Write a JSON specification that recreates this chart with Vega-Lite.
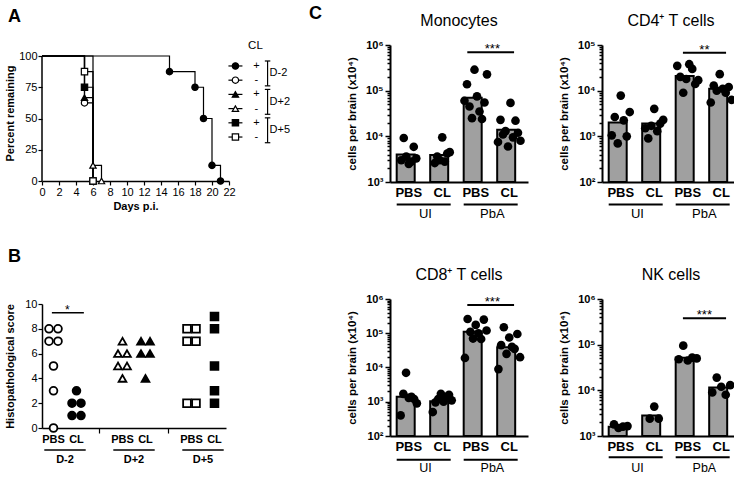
{
"$schema": "https://vega.github.io/schema/vega-lite/v6.json",
"background": "white",
"padding": {"left": 3, "top": 5, "right": 2, "bottom": 0},
"config": {
  "view": {"stroke": null},
  "font": "Liberation Sans",
  "axis": {"domainColor": "black", "tickColor": "black", "labelColor": "black", "titleColor": "black", "labelFont": "Liberation Sans", "titleFont": "Liberation Sans", "grid": false, "labelOverlap": false},
  "title": {"font": "Liberation Sans", "color": "black", "fontWeight": "normal"},
  "text": {"font": "Liberation Sans", "color": "black"}
},
"datasets": {
  "survival": [
    {"timing":"D-2","cl":"+","day":0,"pct":100},{"timing":"D-2","cl":"+","day":15,"pct":87.5},{"timing":"D-2","cl":"+","day":18,"pct":75},{"timing":"D-2","cl":"+","day":19,"pct":50},{"timing":"D-2","cl":"+","day":20,"pct":12.5},{"timing":"D-2","cl":"+","day":21,"pct":0},
    {"timing":"D-2","cl":"-","day":0,"pct":100},{"timing":"D-2","cl":"-","day":5,"pct":62.5},{"timing":"D-2","cl":"-","day":6,"pct":0},
    {"timing":"D+2","cl":"+","day":0,"pct":100},{"timing":"D+2","cl":"+","day":5,"pct":66.7},{"timing":"D+2","cl":"+","day":6,"pct":0},
    {"timing":"D+2","cl":"-","day":0,"pct":100},{"timing":"D+2","cl":"-","day":6,"pct":12.5},{"timing":"D+2","cl":"-","day":7,"pct":0},
    {"timing":"D+5","cl":"+","day":0,"pct":100},{"timing":"D+5","cl":"+","day":5,"pct":75},{"timing":"D+5","cl":"+","day":6,"pct":0},
    {"timing":"D+5","cl":"-","day":0,"pct":100},{"timing":"D+5","cl":"-","day":5,"pct":87.5},{"timing":"D+5","cl":"-","day":6,"pct":0}
  ],
  "legendRows": [
    {"g":"D-2 +","timing":"D-2","cl":"+"},{"g":"D-2 -","timing":"D-2","cl":"-"},
    {"g":"D+2 +","timing":"D+2","cl":"+"},{"g":"D+2 -","timing":"D+2","cl":"-"},
    {"g":"D+5 +","timing":"D+5","cl":"+"},{"g":"D+5 -","timing":"D+5","cl":"-"}
  ],
  "legendBrackets": [
    {"timing":"D-2","top":"D-2 +","bot":"D-2 -"},
    {"timing":"D+2","top":"D+2 +","bot":"D+2 -"},
    {"timing":"D+5","top":"D+5 +","bot":"D+5 -"}
  ],
  "scores": [
    {"cat":"D-2|PBS","timing":"D-2","trt":"PBS","score":8},{"cat":"D-2|PBS","timing":"D-2","trt":"PBS","score":8},{"cat":"D-2|PBS","timing":"D-2","trt":"PBS","score":7},{"cat":"D-2|PBS","timing":"D-2","trt":"PBS","score":7},{"cat":"D-2|PBS","timing":"D-2","trt":"PBS","score":5},{"cat":"D-2|PBS","timing":"D-2","trt":"PBS","score":3},{"cat":"D-2|PBS","timing":"D-2","trt":"PBS","score":0},
    {"cat":"D-2|CL","timing":"D-2","trt":"CL","score":3},{"cat":"D-2|CL","timing":"D-2","trt":"CL","score":2},{"cat":"D-2|CL","timing":"D-2","trt":"CL","score":2},{"cat":"D-2|CL","timing":"D-2","trt":"CL","score":1},{"cat":"D-2|CL","timing":"D-2","trt":"CL","score":1},
    {"cat":"D+2|PBS","timing":"D+2","trt":"PBS","score":7},{"cat":"D+2|PBS","timing":"D+2","trt":"PBS","score":6},{"cat":"D+2|PBS","timing":"D+2","trt":"PBS","score":6},{"cat":"D+2|PBS","timing":"D+2","trt":"PBS","score":5},{"cat":"D+2|PBS","timing":"D+2","trt":"PBS","score":5},{"cat":"D+2|PBS","timing":"D+2","trt":"PBS","score":4},
    {"cat":"D+2|CL","timing":"D+2","trt":"CL","score":7},{"cat":"D+2|CL","timing":"D+2","trt":"CL","score":7},{"cat":"D+2|CL","timing":"D+2","trt":"CL","score":6},{"cat":"D+2|CL","timing":"D+2","trt":"CL","score":6},{"cat":"D+2|CL","timing":"D+2","trt":"CL","score":4},
    {"cat":"D+5|PBS","timing":"D+5","trt":"PBS","score":8},{"cat":"D+5|PBS","timing":"D+5","trt":"PBS","score":8},{"cat":"D+5|PBS","timing":"D+5","trt":"PBS","score":7},{"cat":"D+5|PBS","timing":"D+5","trt":"PBS","score":7},{"cat":"D+5|PBS","timing":"D+5","trt":"PBS","score":2},{"cat":"D+5|PBS","timing":"D+5","trt":"PBS","score":2},
    {"cat":"D+5|CL","timing":"D+5","trt":"CL","score":9},{"cat":"D+5|CL","timing":"D+5","trt":"CL","score":8},{"cat":"D+5|CL","timing":"D+5","trt":"CL","score":5},{"cat":"D+5|CL","timing":"D+5","trt":"CL","score":3},{"cat":"D+5|CL","timing":"D+5","trt":"CL","score":2}
  ],
  "groupsB": [
    {"grp":"D-2","first":"D-2|PBS","last":"D-2|CL"},
    {"grp":"D+2","first":"D+2|PBS","last":"D+2|CL"},
    {"grp":"D+5","first":"D+5|PBS","last":"D+5|CL"}
  ],
  "groupsC": [
    {"grp":"UI","first":"UI|PBS","last":"UI|CL"},
    {"grp":"PbA","first":"PbA|PBS","last":"PbA|CL"}
  ],
  "bars": [
    {"cell":"Monocytes","cat":"UI|PBS","value":4000},{"cell":"Monocytes","cat":"UI|CL","value":3900},{"cell":"Monocytes","cat":"PbA|PBS","value":70000},{"cell":"Monocytes","cat":"PbA|CL","value":14000},
    {"cell":"CD4","cat":"UI|PBS","value":2000},{"cell":"CD4","cat":"UI|CL","value":1900},{"cell":"CD4","cat":"PbA|PBS","value":21000},{"cell":"CD4","cat":"PbA|CL","value":11000},
    {"cell":"CD8","cat":"UI|PBS","value":1400},{"cell":"CD8","cat":"UI|CL","value":1030},{"cell":"CD8","cat":"PbA|PBS","value":111000},{"cell":"CD8","cat":"PbA|CL","value":39000},
    {"cell":"NK","cat":"UI|PBS","value":1600},{"cell":"NK","cat":"UI|CL","value":2800},{"cell":"NK","cat":"PbA|PBS","value":52000},{"cell":"NK","cat":"PbA|CL","value":11500}
  ],
  "cells": [
    {"cell":"Monocytes","cat":"UI|PBS","value":3000},{"cell":"Monocytes","cat":"UI|PBS","value":9200},{"cell":"Monocytes","cat":"UI|PBS","value":3600},{"cell":"Monocytes","cat":"UI|PBS","value":2500},{"cell":"Monocytes","cat":"UI|PBS","value":2800},{"cell":"Monocytes","cat":"UI|PBS","value":5900},{"cell":"Monocytes","cat":"UI|PBS","value":3300},
    {"cell":"Monocytes","cat":"UI|CL","value":2600},{"cell":"Monocytes","cat":"UI|CL","value":3600},{"cell":"Monocytes","cat":"UI|CL","value":3000},{"cell":"Monocytes","cat":"UI|CL","value":9500},{"cell":"Monocytes","cat":"UI|CL","value":2800},{"cell":"Monocytes","cat":"UI|CL","value":4200},{"cell":"Monocytes","cat":"UI|CL","value":4500},
    {"cell":"Monocytes","cat":"PbA|PBS","value":60000},{"cell":"Monocytes","cat":"PbA|PBS","value":138000},{"cell":"Monocytes","cat":"PbA|PBS","value":45000},{"cell":"Monocytes","cat":"PbA|PBS","value":25000},{"cell":"Monocytes","cat":"PbA|PBS","value":288000},{"cell":"Monocytes","cat":"PbA|PBS","value":75000},{"cell":"Monocytes","cat":"PbA|PBS","value":35000},{"cell":"Monocytes","cat":"PbA|PBS","value":24000},{"cell":"Monocytes","cat":"PbA|PBS","value":55000},{"cell":"Monocytes","cat":"PbA|PBS","value":228000},
    {"cell":"Monocytes","cat":"PbA|CL","value":7500},{"cell":"Monocytes","cat":"PbA|CL","value":23000},{"cell":"Monocytes","cat":"PbA|CL","value":11000},{"cell":"Monocytes","cat":"PbA|CL","value":13000},{"cell":"Monocytes","cat":"PbA|CL","value":6000},{"cell":"Monocytes","cat":"PbA|CL","value":54000},{"cell":"Monocytes","cat":"PbA|CL","value":9500},{"cell":"Monocytes","cat":"PbA|CL","value":22000},{"cell":"Monocytes","cat":"PbA|CL","value":12000},{"cell":"Monocytes","cat":"PbA|CL","value":8000},
    {"cell":"CD4","cat":"UI|PBS","value":1050},{"cell":"CD4","cat":"UI|PBS","value":2650},{"cell":"CD4","cat":"UI|PBS","value":700},{"cell":"CD4","cat":"UI|PBS","value":7800},{"cell":"CD4","cat":"UI|PBS","value":2240},{"cell":"CD4","cat":"UI|PBS","value":1000},{"cell":"CD4","cat":"UI|PBS","value":3400},
    {"cell":"CD4","cat":"UI|CL","value":1500},{"cell":"CD4","cat":"UI|CL","value":900},{"cell":"CD4","cat":"UI|CL","value":1700},{"cell":"CD4","cat":"UI|CL","value":4000},{"cell":"CD4","cat":"UI|CL","value":1300},{"cell":"CD4","cat":"UI|CL","value":1900},{"cell":"CD4","cat":"UI|CL","value":2300},
    {"cell":"CD4","cat":"PbA|PBS","value":35000},{"cell":"CD4","cat":"PbA|PBS","value":20000},{"cell":"CD4","cat":"PbA|PBS","value":9000},{"cell":"CD4","cat":"PbA|PBS","value":18000},{"cell":"CD4","cat":"PbA|PBS","value":38000},{"cell":"CD4","cat":"PbA|PBS","value":30000},{"cell":"CD4","cat":"PbA|PBS","value":14000},{"cell":"CD4","cat":"PbA|PBS","value":17000},
    {"cell":"CD4","cat":"PbA|CL","value":5500},{"cell":"CD4","cat":"PbA|CL","value":13000},{"cell":"CD4","cat":"PbA|CL","value":10000},{"cell":"CD4","cat":"PbA|CL","value":23000},{"cell":"CD4","cat":"PbA|CL","value":11000},{"cell":"CD4","cat":"PbA|CL","value":9000},{"cell":"CD4","cat":"PbA|CL","value":12000},{"cell":"CD4","cat":"PbA|CL","value":6300},
    {"cell":"CD8","cat":"UI|PBS","value":400},{"cell":"CD8","cat":"UI|PBS","value":1700},{"cell":"CD8","cat":"UI|PBS","value":7000},{"cell":"CD8","cat":"UI|PBS","value":1300},{"cell":"CD8","cat":"UI|PBS","value":1400},{"cell":"CD8","cat":"UI|PBS","value":1200},{"cell":"CD8","cat":"UI|PBS","value":900},
    {"cell":"CD8","cat":"UI|CL","value":500},{"cell":"CD8","cat":"UI|CL","value":960},{"cell":"CD8","cat":"UI|CL","value":1200},{"cell":"CD8","cat":"UI|CL","value":1700},{"cell":"CD8","cat":"UI|CL","value":1000},{"cell":"CD8","cat":"UI|CL","value":1400},{"cell":"CD8","cat":"UI|CL","value":1600},{"cell":"CD8","cat":"UI|CL","value":1100},
    {"cell":"CD8","cat":"PbA|PBS","value":19000},{"cell":"CD8","cat":"PbA|PBS","value":260000},{"cell":"CD8","cat":"PbA|PBS","value":110000},{"cell":"CD8","cat":"PbA|PBS","value":70000},{"cell":"CD8","cat":"PbA|PBS","value":175000},{"cell":"CD8","cat":"PbA|PBS","value":100000},{"cell":"CD8","cat":"PbA|PBS","value":68000},{"cell":"CD8","cat":"PbA|PBS","value":250000},{"cell":"CD8","cat":"PbA|PBS","value":120000},
    {"cell":"CD8","cat":"PbA|CL","value":9000},{"cell":"CD8","cat":"PbA|CL","value":45000},{"cell":"CD8","cat":"PbA|CL","value":150000},{"cell":"CD8","cat":"PbA|CL","value":25000},{"cell":"CD8","cat":"PbA|CL","value":75000},{"cell":"CD8","cat":"PbA|CL","value":40000},{"cell":"CD8","cat":"PbA|CL","value":35000},{"cell":"CD8","cat":"PbA|CL","value":95000},{"cell":"CD8","cat":"PbA|CL","value":20000},
    {"cell":"NK","cat":"UI|PBS","value":1800},{"cell":"NK","cat":"UI|PBS","value":1500},{"cell":"NK","cat":"UI|PBS","value":1600},{"cell":"NK","cat":"UI|PBS","value":1650},
    {"cell":"NK","cat":"UI|CL","value":2400},{"cell":"NK","cat":"UI|CL","value":4400},{"cell":"NK","cat":"UI|CL","value":2400},
    {"cell":"NK","cat":"PbA|PBS","value":48000},{"cell":"NK","cat":"PbA|PBS","value":95000},{"cell":"NK","cat":"PbA|PBS","value":45000},{"cell":"NK","cat":"PbA|PBS","value":52000},{"cell":"NK","cat":"PbA|PBS","value":50000},
    {"cell":"NK","cat":"PbA|CL","value":9000},{"cell":"NK","cat":"PbA|CL","value":19000},{"cell":"NK","cat":"PbA|CL","value":12000},{"cell":"NK","cat":"PbA|CL","value":8000},{"cell":"NK","cat":"PbA|CL","value":13000}
  ]
},
"spacing": 18,
"resolve": {"scale": {"xOffset": "independent"}},
"hconcat": [
  {
    "resolve": {"scale": {"fill": "independent", "shape": "independent", "xOffset": "independent"}},
    "spacing": 37,
    "vconcat": [
      {
        "title": {"text": "A", "anchor": "start", "fontSize": 18, "fontWeight": "bold", "offset": 14, "dx": 4},
        "bounds": "flush",
        "spacing": 0,
        "hconcat": [
          {
            "width": 187, "height": 136,
            "data": {"name": "survival"},
            "layer": [
              {
                "mark": {"type": "line", "interpolate": "step-after", "color": "black", "strokeWidth": 1.2},
                "encoding": {
                  "x": {"field": "day", "type": "quantitative", "scale": {"domain": [0, 22], "nice": false},
                        "axis": {"values": [0,2,4,6,8,10,12,14,16,18,20,22], "tickCount": 100, "format": "d", "title": "Days p.i.", "titleFontSize": 11, "titleFontWeight": "bold", "labelFontSize": 11, "labelOverlap": false, "tickSize": 4, "labelPadding": 1, "titlePadding": 3, "domainWidth": 1.5, "tickWidth": 1.2, "labelFlush": false}},
                  "y": {"field": "pct", "type": "quantitative", "scale": {"domain": [0, 108.8], "nice": false},
                        "axis": {"values": [0,25,50,75,100], "tickCount": 100, "format": "d", "domain": false, "title": "Percent remaining", "titleFontSize": 11, "titleFontWeight": "bold", "labelFontSize": 11, "labelOverlap": false, "labelFlush": false, "tickSize": 4, "labelPadding": 1, "titlePadding": 2, "tickWidth": 1.2, "minExtent": 25, "maxExtent": 25}},
                  "detail": [{"field": "timing"}, {"field": "cl"}]
                }
              },
              {
                "data": {"values": [{"axis": "y"}]},
                "mark": {"type": "rule", "strokeWidth": 1.5, "color": "black"},
                "encoding": {
                  "x": {"datum": 0, "type": "quantitative"},
                  "y": {"datum": 0, "type": "quantitative"},
                  "y2": {"datum": 100}
                }
              },
              {
                "transform": [{"filter": "datum.day > 0"}],
                "mark": {"type": "point", "filled": true, "size": 40, "stroke": "black", "strokeWidth": 1.2, "opacity": 1},
                "encoding": {
                  "x": {"field": "day", "type": "quantitative"},
                  "y": {"field": "pct", "type": "quantitative"},
                  "shape": {"field": "timing", "type": "nominal", "scale": {"domain": ["D-2","D+2","D+5"], "range": ["circle","triangle-up","square"]}, "legend": null},
                  "fill": {"field": "cl", "type": "nominal", "scale": {"domain": ["+","-"], "range": ["black","white"]}, "legend": null}
                }
              }
            ]
          },
          {
            "width": 45, "height": 113,
            "data": {"name": "legendRows"},
            "layer": [
              {
                "mark": {"type": "point", "shape": "M-1,0L1,0", "size": 196, "stroke": "black", "strokeWidth": 1.2, "filled": false, "opacity": 1},
                "encoding": {
                  "x": {"datum": "sym", "type": "nominal", "scale": {"type": "point", "domain": ["sym","br"], "padding": 0.2}, "axis": null},
                  "y": {"field": "g", "type": "nominal", "scale": {"type": "band", "domain": ["D-2 +","D-2 -","D+2 +","D+2 -","D+5 +","D+5 -"], "paddingInner": 0, "paddingOuter": 0.975}, "axis": null}
                }
              },
              {
                "mark": {"type": "point", "filled": true, "size": 40, "stroke": "black", "strokeWidth": 1.2, "opacity": 1},
                "encoding": {
                  "x": {"datum": "sym", "type": "nominal"},
                  "y": {"field": "g", "type": "nominal"},
                  "shape": {"field": "timing", "type": "nominal", "scale": {"domain": ["D-2","D+2","D+5"], "range": ["circle","triangle-up","square"]}, "legend": null},
                  "fill": {"field": "cl", "type": "nominal", "scale": {"domain": ["+","-"], "range": ["black","white"]}, "legend": null}
                }
              },
              {
                "mark": {"type": "text", "dx": 21, "fontSize": 11, "baseline": "middle"},
                "encoding": {
                  "x": {"datum": "sym", "type": "nominal"},
                  "y": {"field": "g", "type": "nominal"},
                  "text": {"field": "cl"}
                }
              },
              {
                "data": {"values": [{"label": "CL"}]},
                "mark": {"type": "text", "dx": 20, "dy": -20, "fontSize": 11.5, "baseline": "middle"},
                "encoding": {
                  "x": {"datum": "sym", "type": "nominal"},
                  "y": {"datum": "D-2 +", "type": "nominal"},
                  "text": {"field": "label"}
                }
              },
              {
                "data": {"name": "legendBrackets"},
                "mark": {"type": "rule", "strokeWidth": 1.2, "color": "black"},
                "encoding": {
                  "x": {"datum": "br", "type": "nominal"},
                  "y": {"field": "top", "type": "nominal", "bandPosition": 0.15},
                  "y2": {"field": "bot", "bandPosition": 0.9}
                }
              },
              {
                "data": {"name": "legendBrackets"},
                "mark": {"type": "point", "shape": "M-1,0L1,0", "size": 30, "stroke": "black", "strokeWidth": 1.2, "filled": false, "opacity": 1},
                "encoding": {
                  "x": {"datum": "br", "type": "nominal"},
                  "y": {"field": "top", "type": "nominal", "bandPosition": 0.15}
                }
              },
              {
                "data": {"name": "legendBrackets"},
                "mark": {"type": "point", "shape": "M-1,0L1,0", "size": 30, "stroke": "black", "strokeWidth": 1.2, "filled": false, "opacity": 1},
                "encoding": {
                  "x": {"datum": "br", "type": "nominal"},
                  "y": {"field": "bot", "type": "nominal", "bandPosition": 0.9}
                }
              },
              {
                "data": {"name": "legendBrackets"},
                "mark": {"type": "text", "align": "left", "dx": 2, "fontSize": 11, "baseline": "middle"},
                "encoding": {
                  "x": {"datum": "br", "type": "nominal"},
                  "y": {"field": "top", "type": "nominal", "bandPosition": 1},
                  "text": {"field": "timing"}
                }
              }
            ]
          }
        ]
      },
      {
        "width": 184, "height": 124,
        "title": {"text": "B", "anchor": "start", "fontSize": 18, "fontWeight": "bold", "offset": 32, "dx": 4},
        "layer": [
          {
            "data": {"name": "scores"},
            "transform": [
              {"window": [{"op": "count", "as": "one"}], "frame": [0, 0], "ignorePeers": true},
              {"stack": "one", "groupby": ["cat", "score"], "offset": "center", "as": ["j0", "j1"]}
            ],
            "mark": {"type": "point", "filled": true, "size": 60, "stroke": "black", "strokeWidth": 1.8, "opacity": 1},
            "encoding": {
              "x": {"field": "cat", "type": "nominal", "title": null,
                    "scale": {"type": "band", "domain": ["D-2|PBS","D-2|CL","g1","D+2|PBS","D+2|CL","g2","D+5|PBS","D+5|CL"], "paddingInner": 0, "paddingOuter": 0},
                    "axis": {"title": null, "labelExpr": "indexof(datum.value, '|') > 0 ? split(datum.value, '|')[1] : ''", "labelAngle": 0, "labelFontSize": 11, "labelFontWeight": "bold", "tickSize": 5, "tickWidth": 1.2, "tickOpacity": {"condition": {"test": "indexof(datum.value, '|') < 0", "value": 1}, "value": 0}, "labelPadding": 0, "domainWidth": 1.5, "labelOverlap": false}},
              "xOffset": {"field": "j0", "type": "quantitative", "scale": {"domain": [-0.778, 1.778], "range": [0, 23]}},
              "y": {"field": "score", "type": "quantitative", "scale": {"domain": [0, 10], "nice": false},
                    "axis": {"values": [0,2,4,6,8,10], "tickCount": 100, "format": "d", "title": "Histopathological score", "titleFontSize": 11, "titleFontWeight": "bold", "labelFontSize": 11, "labelOverlap": false, "labelFlush": false, "tickSize": 4, "tickWidth": 1.2, "labelPadding": 1, "titlePadding": 2, "domainWidth": 1.5, "minExtent": 25, "maxExtent": 25}},
              "shape": {"field": "timing", "type": "nominal", "scale": {"domain": ["D-2","D+2","D+5"], "range": ["circle","triangle-up","square"]}, "legend": null},
              "fill": {"field": "trt", "type": "nominal", "scale": {"domain": ["PBS","CL"], "range": ["white","black"]}, "legend": null}
            }
          },
          {
            "data": {"values": [{"label": "*"}]},
            "layer": [
              {
                "mark": {"type": "rule", "strokeWidth": 1.5, "color": "black"},
                "encoding": {
                  "x": {"datum": "D-2|PBS", "type": "nominal", "bandPosition": 0.43},
                  "x2": {"datum": "D-2|CL", "bandPosition": 0.82},
                  "y": {"datum": 9.3, "type": "quantitative"}
                }
              },
              {
                "mark": {"type": "text", "fontSize": 12, "baseline": "alphabetic", "dy": 1},
                "encoding": {
                  "x": {"datum": "D-2|PBS", "type": "nominal", "bandPosition": 1.1},
                  "y": {"datum": 9.3, "type": "quantitative"},
                  "text": {"field": "label"}
                }
              }
            ]
          },
          {
            "data": {"name": "groupsB"},
            "layer": [
              {
                "mark": {"type": "rule", "strokeWidth": 1.5, "color": "black"},
                "encoding": {
                  "x": {"field": "first", "type": "nominal", "bandPosition": 0.1},
                  "x2": {"field": "last", "bandPosition": 0.9},
                  "y": {"datum": -1.77, "type": "quantitative"}
                }
              },
              {
                "mark": {"type": "text", "fontSize": 11, "fontWeight": "bold", "baseline": "top"},
                "encoding": {
                  "x": {"field": "first", "type": "nominal", "bandPosition": 1},
                  "y": {"datum": -2.1, "type": "quantitative"},
                  "text": {"field": "grp"}
                }
              }
            ]
          }
        ]
      }
    ]
  },
  {
    "title": {"text": "C", "orient": "left", "anchor": "end", "angle": 0, "align": "right", "baseline": "top", "fontSize": 18, "fontWeight": "bold", "offset": 11, "dy": -8},
    "resolve": {"scale": {"xOffset": "independent"}},
    "spacing": 46,
    "vconcat": [
      {
        "spacing": 30,
        "resolve": {"scale": {"xOffset": "independent"}},
        "hconcat": [
          {
            "width": 138, "height": 137,
            "title": {"text": "Monocytes", "fontSize": 16, "offset": 10},
            "layer": [
              {
                "data": {"name": "bars"},
                "transform": [{"filter": "datum.cell === 'Monocytes'"}],
                "mark": {"type": "bar", "fill": "#a0a0a0", "stroke": "black", "strokeWidth": 2},
                "encoding": {
                  "x": {"field": "cat", "type": "nominal", "title": null, "scale": {"type": "band", "domain": ["UI|PBS","UI|CL","PbA|PBS","PbA|CL"], "paddingInner": 0.28, "paddingOuter": 0.2},
                        "axis": {"title": null, "labelExpr": "split(datum.value, '|')[1]", "labelAngle": 0, "labelFontSize": 13, "labelFontWeight": "bold", "ticks": false, "labelPadding": 4, "domainWidth": 2}},
                  "y": {"field": "value", "type": "quantitative", "scale": {"type": "log", "domain": [1000, 1000000], "nice": false},
                        "axis": {"values": [1000,2000,3000,4000,5000,6000,7000,8000,9000,10000,20000,30000,40000,50000,60000,70000,80000,90000,100000,200000,300000,400000,500000,600000,700000,800000,900000,1000000], "tickCount": 100,
                                 "labelExpr": "abs(log(datum.value)/LN10 - round(log(datum.value)/LN10)) < 0.001 ? '10' + ['⁰','¹','²','³','⁴','⁵','⁶'][round(log(datum.value)/LN10)] : ''",
                                 "labelOverlap": false, "labelFontSize": 11, "labelFontWeight": "bold",
                                 "tickSize": {"condition": {"test": "abs(log(datum.value)/LN10 - round(log(datum.value)/LN10)) < 0.001", "value": 5}, "value": 3},
                                 "tickWidth": 1.5, "domainWidth": 2, "labelPadding": 2,
                                 "title": "cells per brain (x10⁴)", "titleFontSize": 11.5, "titleFontWeight": "bold", "titlePadding": 7, "minExtent": 26, "maxExtent": 26}},
                  "y2": {"datum": 1000}
                }
              },
              {
                "data": {"name": "cells"},
                "transform": [
                  {"filter": "datum.cell === 'Monocytes'"},
                  {"window": [{"op": "count", "as": "one"}], "frame": [0, 0], "ignorePeers": true},
                  {"stack": "one", "groupby": ["cat"], "offset": "center", "as": ["j0", "j1"]}
                ],
                "mark": {"type": "circle", "size": 75, "color": "black", "opacity": 1},
                "encoding": {
                  "x": {"field": "cat", "type": "nominal"},
                  "xOffset": {"field": "j0", "type": "quantitative", "scale": {"domain": [-0.32, 9.32], "range": [0, 24.1]}},
                  "y": {"field": "value", "type": "quantitative"}
                }
              },
              {
                "data": {"values": [{"label": "***"}]},
                "layer": [
                  {"mark": {"type": "rule", "strokeWidth": 2, "color": "black"},
                   "encoding": {"x": {"datum": "PbA|PBS", "type": "nominal", "bandPosition": 0.15}, "x2": {"datum": "PbA|CL", "bandPosition": 0.7}, "y": {"datum": 690000, "type": "quantitative"}}},
                  {"mark": {"type": "text", "fontSize": 13, "baseline": "alphabetic", "dy": 1},
                   "encoding": {"x": {"datum": "PbA|PBS", "type": "nominal", "bandPosition": 1.19}, "y": {"datum": 690000, "type": "quantitative"}, "text": {"field": "label"}}}
                ]
              },
              {
                "data": {"name": "groupsC"},
                "layer": [
                  {"mark": {"type": "rule", "strokeWidth": 2, "color": "black"},
                   "encoding": {"x": {"field": "first", "type": "nominal", "bandPosition": 0}, "x2": {"field": "last", "bandPosition": 0.85}, "y": {"datum": 320, "type": "quantitative"}}},
                  {"mark": {"type": "text", "fontSize": 13, "baseline": "top"},
                   "encoding": {"x": {"field": "first", "type": "nominal", "bandPosition": 1.19}, "y": {"datum": 270, "type": "quantitative"}, "text": {"field": "grp"}}}
                ]
              }
            ]
          },
          {
            "width": 138, "height": 137,
            "title": {"text": "CD4⁺ T cells", "fontSize": 16, "offset": 10},
            "layer": [
              {
                "data": {"name": "bars"},
                "transform": [{"filter": "datum.cell === 'CD4'"}],
                "mark": {"type": "bar", "fill": "#a0a0a0", "stroke": "black", "strokeWidth": 2},
                "encoding": {
                  "x": {"field": "cat", "type": "nominal", "title": null, "scale": {"type": "band", "domain": ["UI|PBS","UI|CL","PbA|PBS","PbA|CL"], "paddingInner": 0.28, "paddingOuter": 0.2},
                        "axis": {"title": null, "labelExpr": "split(datum.value, '|')[1]", "labelAngle": 0, "labelFontSize": 13, "labelFontWeight": "bold", "ticks": false, "labelPadding": 4, "domainWidth": 2}},
                  "y": {"field": "value", "type": "quantitative", "scale": {"type": "log", "domain": [100, 100000], "nice": false},
                        "axis": {"values": [100,200,300,400,500,600,700,800,900,1000,2000,3000,4000,5000,6000,7000,8000,9000,10000,20000,30000,40000,50000,60000,70000,80000,90000,100000], "tickCount": 100,
                                 "labelExpr": "abs(log(datum.value)/LN10 - round(log(datum.value)/LN10)) < 0.001 ? '10' + ['⁰','¹','²','³','⁴','⁵','⁶'][round(log(datum.value)/LN10)] : ''",
                                 "labelOverlap": false, "labelFontSize": 11, "labelFontWeight": "bold",
                                 "tickSize": {"condition": {"test": "abs(log(datum.value)/LN10 - round(log(datum.value)/LN10)) < 0.001", "value": 5}, "value": 3},
                                 "tickWidth": 1.5, "domainWidth": 2, "labelPadding": 2,
                                 "title": "cells per brain (x10⁴)", "titleFontSize": 11.5, "titleFontWeight": "bold", "titlePadding": 7, "minExtent": 26, "maxExtent": 26}},
                  "y2": {"datum": 100}
                }
              },
              {
                "data": {"name": "cells"},
                "transform": [
                  {"filter": "datum.cell === 'CD4'"},
                  {"window": [{"op": "count", "as": "one"}], "frame": [0, 0], "ignorePeers": true},
                  {"stack": "one", "groupby": ["cat"], "offset": "center", "as": ["j0", "j1"]}
                ],
                "mark": {"type": "circle", "size": 75, "color": "black", "opacity": 1},
                "encoding": {
                  "x": {"field": "cat", "type": "nominal"},
                  "xOffset": {"field": "j0", "type": "quantitative", "scale": {"domain": [-0.52, 7.52], "range": [0, 24.1]}},
                  "y": {"field": "value", "type": "quantitative"}
                }
              },
              {
                "data": {"values": [{"label": "**"}]},
                "layer": [
                  {"mark": {"type": "rule", "strokeWidth": 2, "color": "black"},
                   "encoding": {"x": {"datum": "PbA|PBS", "type": "nominal", "bandPosition": 0.3}, "x2": {"datum": "PbA|CL", "bandPosition": 0.7}, "y": {"datum": 68000, "type": "quantitative"}}},
                  {"mark": {"type": "text", "fontSize": 13, "baseline": "alphabetic", "dy": 1},
                   "encoding": {"x": {"datum": "PbA|PBS", "type": "nominal", "bandPosition": 1.19}, "y": {"datum": 68000, "type": "quantitative"}, "text": {"field": "label"}}}
                ]
              },
              {
                "data": {"name": "groupsC"},
                "layer": [
                  {"mark": {"type": "rule", "strokeWidth": 2, "color": "black"},
                   "encoding": {"x": {"field": "first", "type": "nominal", "bandPosition": 0}, "x2": {"field": "last", "bandPosition": 0.85}, "y": {"datum": 32, "type": "quantitative"}}},
                  {"mark": {"type": "text", "fontSize": 13, "baseline": "top"},
                   "encoding": {"x": {"field": "first", "type": "nominal", "bandPosition": 1.19}, "y": {"datum": 27, "type": "quantitative"}, "text": {"field": "grp"}}}
                ]
              }
            ]
          }
        ]
      },
      {
        "spacing": 30,
        "resolve": {"scale": {"xOffset": "independent"}},
        "hconcat": [
          {
            "width": 138, "height": 137,
            "title": {"text": "CD8⁺ T cells", "fontSize": 16, "offset": 10},
            "layer": [
              {
                "data": {"name": "bars"},
                "transform": [{"filter": "datum.cell === 'CD8'"}],
                "mark": {"type": "bar", "fill": "#a0a0a0", "stroke": "black", "strokeWidth": 2},
                "encoding": {
                  "x": {"field": "cat", "type": "nominal", "title": null, "scale": {"type": "band", "domain": ["UI|PBS","UI|CL","PbA|PBS","PbA|CL"], "paddingInner": 0.28, "paddingOuter": 0.2},
                        "axis": {"title": null, "labelExpr": "split(datum.value, '|')[1]", "labelAngle": 0, "labelFontSize": 13, "labelFontWeight": "bold", "ticks": false, "labelPadding": 4, "domainWidth": 2}},
                  "y": {"field": "value", "type": "quantitative", "scale": {"type": "log", "domain": [100, 1000000], "nice": false},
                        "axis": {"values": [100,200,300,400,500,600,700,800,900,1000,2000,3000,4000,5000,6000,7000,8000,9000,10000,20000,30000,40000,50000,60000,70000,80000,90000,100000,200000,300000,400000,500000,600000,700000,800000,900000,1000000], "tickCount": 100,
                                 "labelExpr": "abs(log(datum.value)/LN10 - round(log(datum.value)/LN10)) < 0.001 ? '10' + ['⁰','¹','²','³','⁴','⁵','⁶'][round(log(datum.value)/LN10)] : ''",
                                 "labelOverlap": false, "labelFontSize": 11, "labelFontWeight": "bold",
                                 "tickSize": {"condition": {"test": "abs(log(datum.value)/LN10 - round(log(datum.value)/LN10)) < 0.001", "value": 5}, "value": 3},
                                 "tickWidth": 1.5, "domainWidth": 2, "labelPadding": 2,
                                 "title": "cells per brain (x10⁴)", "titleFontSize": 11.5, "titleFontWeight": "bold", "titlePadding": 7, "minExtent": 26, "maxExtent": 26}},
                  "y2": {"datum": 100}
                }
              },
              {
                "data": {"name": "cells"},
                "transform": [
                  {"filter": "datum.cell === 'CD8'"},
                  {"window": [{"op": "count", "as": "one"}], "frame": [0, 0], "ignorePeers": true},
                  {"stack": "one", "groupby": ["cat"], "offset": "center", "as": ["j0", "j1"]}
                ],
                "mark": {"type": "circle", "size": 75, "color": "black", "opacity": 1},
                "encoding": {
                  "x": {"field": "cat", "type": "nominal"},
                  "xOffset": {"field": "j0", "type": "quantitative", "scale": {"domain": [-0.46, 8.46], "range": [0, 24.1]}},
                  "y": {"field": "value", "type": "quantitative"}
                }
              },
              {
                "data": {"values": [{"label": "***"}]},
                "layer": [
                  {"mark": {"type": "rule", "strokeWidth": 2, "color": "black"},
                   "encoding": {"x": {"datum": "PbA|PBS", "type": "nominal", "bandPosition": 0.15}, "x2": {"datum": "PbA|CL", "bandPosition": 0.7}, "y": {"datum": 668000, "type": "quantitative"}}},
                  {"mark": {"type": "text", "fontSize": 13, "baseline": "alphabetic", "dy": 1},
                   "encoding": {"x": {"datum": "PbA|PBS", "type": "nominal", "bandPosition": 1.19}, "y": {"datum": 668000, "type": "quantitative"}, "text": {"field": "label"}}}
                ]
              },
              {
                "data": {"name": "groupsC"},
                "layer": [
                  {"mark": {"type": "rule", "strokeWidth": 2, "color": "black"},
                   "encoding": {"x": {"field": "first", "type": "nominal", "bandPosition": 0}, "x2": {"field": "last", "bandPosition": 0.85}, "y": {"datum": 20.3, "type": "quantitative"}}},
                  {"mark": {"type": "text", "fontSize": 12.5, "baseline": "top"},
                   "encoding": {"x": {"field": "first", "type": "nominal", "bandPosition": 1.19}, "y": {"datum": 17.4, "type": "quantitative"}, "text": {"field": "grp"}}}
                ]
              }
            ]
          },
          {
            "width": 138, "height": 137,
            "title": {"text": "NK cells", "fontSize": 16, "offset": 10},
            "layer": [
              {
                "data": {"name": "bars"},
                "transform": [{"filter": "datum.cell === 'NK'"}],
                "mark": {"type": "bar", "fill": "#a0a0a0", "stroke": "black", "strokeWidth": 2},
                "encoding": {
                  "x": {"field": "cat", "type": "nominal", "title": null, "scale": {"type": "band", "domain": ["UI|PBS","UI|CL","PbA|PBS","PbA|CL"], "paddingInner": 0.28, "paddingOuter": 0.2},
                        "axis": {"title": null, "labelExpr": "split(datum.value, '|')[1]", "labelAngle": 0, "labelFontSize": 13, "labelFontWeight": "bold", "ticks": false, "labelPadding": 4, "domainWidth": 2}},
                  "y": {"field": "value", "type": "quantitative", "scale": {"type": "log", "domain": [1000, 1000000], "nice": false},
                        "axis": {"values": [1000,2000,3000,4000,5000,6000,7000,8000,9000,10000,20000,30000,40000,50000,60000,70000,80000,90000,100000,200000,300000,400000,500000,600000,700000,800000,900000,1000000], "tickCount": 100,
                                 "labelExpr": "abs(log(datum.value)/LN10 - round(log(datum.value)/LN10)) < 0.001 ? '10' + ['⁰','¹','²','³','⁴','⁵','⁶'][round(log(datum.value)/LN10)] : ''",
                                 "labelOverlap": false, "labelFontSize": 11, "labelFontWeight": "bold",
                                 "tickSize": {"condition": {"test": "abs(log(datum.value)/LN10 - round(log(datum.value)/LN10)) < 0.001", "value": 5}, "value": 3},
                                 "tickWidth": 1.5, "domainWidth": 2, "labelPadding": 2,
                                 "title": "cells per brain (x10⁴)", "titleFontSize": 11.5, "titleFontWeight": "bold", "titlePadding": 7, "minExtent": 26, "maxExtent": 26}},
                  "y2": {"datum": 1000}
                }
              },
              {
                "data": {"name": "cells"},
                "transform": [
                  {"filter": "datum.cell === 'NK'"},
                  {"window": [{"op": "count", "as": "one"}], "frame": [0, 0], "ignorePeers": true},
                  {"stack": "one", "groupby": ["cat"], "offset": "center", "as": ["j0", "j1"]}
                ],
                "mark": {"type": "circle", "size": 75, "color": "black", "opacity": 1},
                "encoding": {
                  "x": {"field": "cat", "type": "nominal"},
                  "xOffset": {"field": "j0", "type": "quantitative", "scale": {"domain": [-0.68, 4.68], "range": [0, 24.1]}},
                  "y": {"field": "value", "type": "quantitative"}
                }
              },
              {
                "data": {"values": [{"label": "***"}]},
                "layer": [
                  {"mark": {"type": "rule", "strokeWidth": 2, "color": "black"},
                   "encoding": {"x": {"datum": "PbA|PBS", "type": "nominal", "bandPosition": 0.3}, "x2": {"datum": "PbA|CL", "bandPosition": 0.7}, "y": {"datum": 378000, "type": "quantitative"}}},
                  {"mark": {"type": "text", "fontSize": 13, "baseline": "alphabetic", "dy": 1},
                   "encoding": {"x": {"datum": "PbA|PBS", "type": "nominal", "bandPosition": 1.19}, "y": {"datum": 378000, "type": "quantitative"}, "text": {"field": "label"}}}
                ]
              },
              {
                "data": {"name": "groupsC"},
                "layer": [
                  {"mark": {"type": "rule", "strokeWidth": 2, "color": "black"},
                   "encoding": {"x": {"field": "first", "type": "nominal", "bandPosition": 0}, "x2": {"field": "last", "bandPosition": 0.85}, "y": {"datum": 341, "type": "quantitative"}}},
                  {"mark": {"type": "text", "fontSize": 12.5, "baseline": "top"},
                   "encoding": {"x": {"field": "first", "type": "nominal", "bandPosition": 1.19}, "y": {"datum": 269, "type": "quantitative"}, "text": {"field": "grp"}}}
                ]
              }
            ]
          }
        ]
      }
    ]
  }
]
}
